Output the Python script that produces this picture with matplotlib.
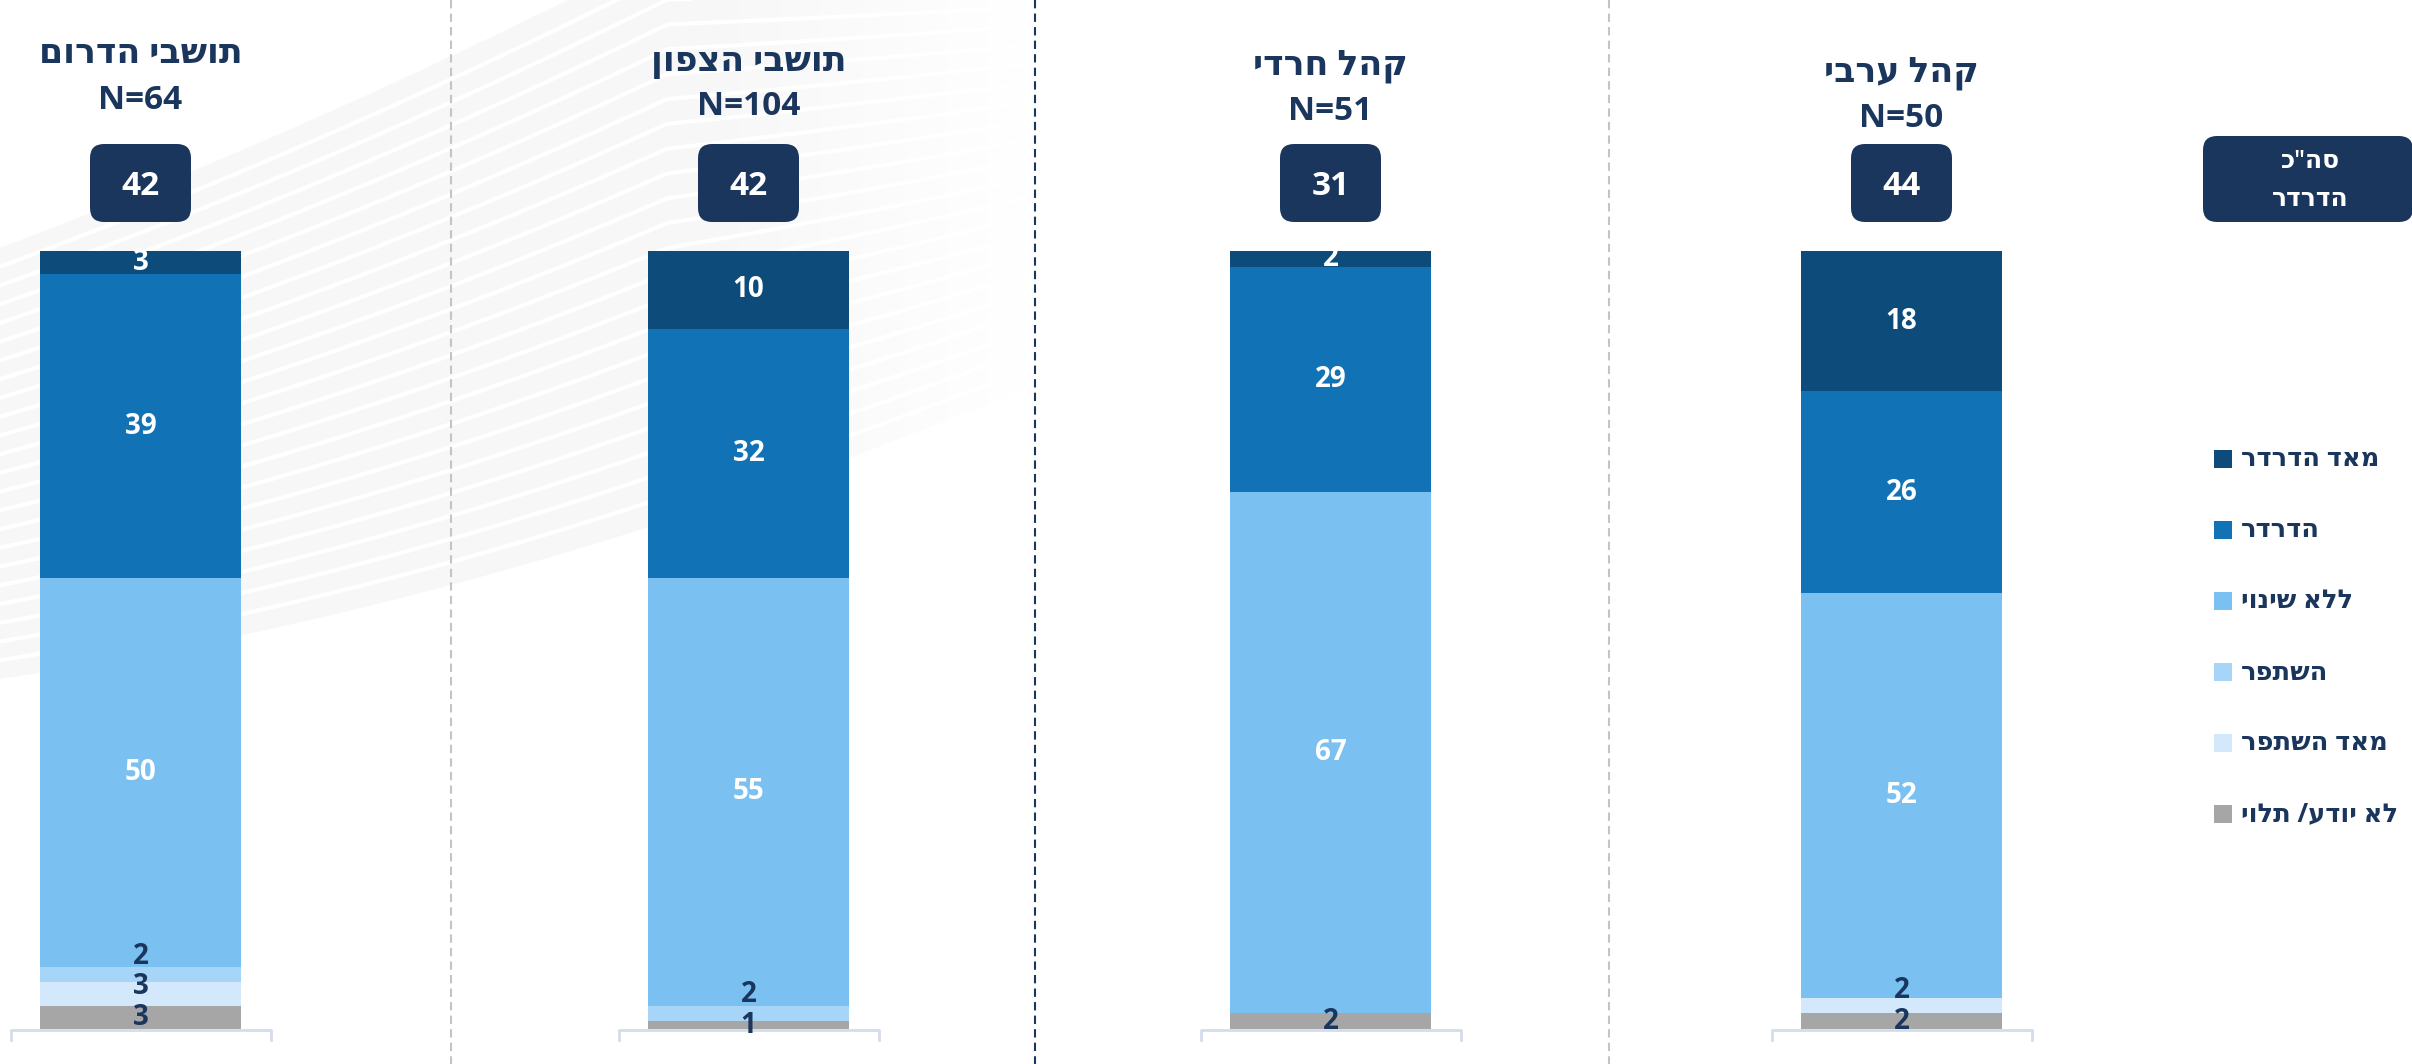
import numpy as np
import matplotlib.pyplot as plt
from matplotlib.patches import FancyBboxPatch, Rectangle, Polygon

plt.rcParams['font.family'] = ['Open Sans', 'DejaVu Sans']

# data (percent)
groups = ['תושבי הדרום', 'תושבי הצפון', 'קהל חרדי', 'קהל ערבי']
n_sizes = [64, 104, 51, 50]
totals = [42, 42, 31, 44]

# series bottom -> top
series = ['לא יודע/ תלוי', 'מאד השתפר', 'השתפר', 'ללא שינוי', 'הדרדר', 'מאד הדרדר']
dont_know = [3, 1, 2, 2]
much_better = [3, 0, 0, 2]
better = [2, 2, 0, 0]
no_change = [50, 55, 67, 52]
worse = [39, 32, 29, 26]
much_worse = [3, 10, 2, 18]
values = [dont_know, much_better, better, no_change, worse, much_worse]

colors = ['#a6a6a6', '#d3e9fb', '#a7d5f7', '#7ac1f2', '#1172b6', '#0c4b7a']
label_col = ['#1a365d', '#1a365d', '#1a365d', 'white', 'white', 'white']
NAVY = '#1a365d'

# layout (pixels of the 2412x1064 picture)
W, H = 2412, 1064
BASE, TOP = 1029, 251          # pixel rows of 0% and 100%
scale = (BASE - TOP) / 100.0
centers = [140.5, 748.5, 1330.5, 1901.5]
title_base = [63, 71, 75, 82]      # baseline of the group name
n_base = [109, 115, 120, 127]      # baseline of the N= line
bar_w = 201


def py(p):
    """pixel row (from top) -> y data value"""
    return (BASE - p) / scale


def rtl(s):
    return s[::-1]


fig = plt.figure(figsize=(W / 100, H / 100), dpi=100)
ax = fig.add_axes([0, 0, 1, 1])
ax.set_xlim(0, W)
ax.set_ylim(py(H), py(0))
ax.axis('off')

# faint background swoosh, fading out to the right
X_END = 1030
xs = np.linspace(0, X_END, 400)
top_c = np.clip(248 - 0.38 * xs - 0.0001 * xs ** 2, -50, None)
bot_c = 679 - 0.15 * xs - 0.00013 * xs ** 2
band = Polygon(np.column_stack([np.r_[xs, xs[::-1]], np.r_[py(top_c), py(bot_c[::-1])]]),
               closed=True, fc='none', ec='none')
ax.add_patch(band)
grad = np.ones((2, 400, 4))
grad[..., :3] = 0.972
grad[..., 3] = np.clip((X_END - xs) / 330, 0, 1)
img = ax.imshow(grad, extent=(0, X_END, py(H), py(0)), aspect='auto', zorder=0,
                interpolation='bilinear')
img.set_clip_path(band)
for k in np.linspace(0, 1, 24)[1:-1]:
    ax.plot(xs, py(top_c + k * (bot_c - top_c)), color='white', lw=3, zorder=0.5)
ax.set_xlim(0, W)
ax.set_ylim(py(H), py(0))

# separators
for x, c in [(451, '#c4c4c4'), (1035, NAVY), (1609, '#c4c4c4')]:
    ax.plot([x, x], [py(0), py(H)], color=c, lw=1.5, ls=(0, (4, 2.5)), zorder=1)

# stacked bars
bottoms = np.zeros(len(groups))
for vals, col in zip(values, colors):
    ax.bar(centers, vals, bottom=bottoms, width=bar_w, color=col, lw=0, zorder=2)
    bottoms = bottoms + np.array(vals)

# segment labels, small ones nudged apart
for gi, c in enumerate(centers):
    bottom = 0
    prev = -10
    for si, vals in enumerate(values):
        v = vals[gi]
        if v > 0:
            y = max(bottom + v / 2, prev + 3.9)
            ax.text(c, y, str(v), ha='center', va='center', fontsize=20,
                    fontweight='bold', color=label_col[si], zorder=4)
            prev = y
        bottom += v

# base brackets
for c in centers:
    ax.plot([c - 130, c - 130, c + 130, c + 130], [py(1040), py(1030), py(1030), py(1040)],
            color='#d3ddea', lw=2, zorder=3)

# titles and total boxes
for i, (c, g, n, t) in enumerate(zip(centers, groups, n_sizes, totals)):
    ax.text(c, py(title_base[i]), rtl(g), ha='center', va='baseline', fontsize=25,
            fontweight='bold', color=NAVY)
    ax.text(c, py(n_base[i]), 'N={}'.format(n), ha='center', va='baseline', fontsize=24,
            fontweight='bold', color=NAVY)
    box = FancyBboxPatch((c - 50.5, py(222)), 101, py(144) - py(222),
                         boxstyle='round,pad=0,rounding_size=14',
                         mutation_aspect=1 / scale, fc=NAVY, ec='none', zorder=3)
    ax.add_patch(box)
    ax.text(c, py(195), str(t), ha='center', va='baseline', fontsize=24,
            fontweight='bold', color='white', zorder=4)

# right header box
box = FancyBboxPatch((2203, py(222)), 210, py(136) - py(222),
                     boxstyle='round,pad=0,rounding_size=14',
                     mutation_aspect=1 / scale, fc=NAVY, ec='none', zorder=3)
ax.add_patch(box)
ax.text(2310, py(162), rtl('סה"כ'), ha='center', va='center', fontsize=18,
        fontweight='semibold', color='white', zorder=4)
ax.text(2310, py(200), rtl('הדרדר'), ha='center', va='center', fontsize=18,
        fontweight='semibold', color='white', zorder=4)

# legend (top row = top series)
for i, si in enumerate(range(len(series) - 1, -1, -1)):
    yc = 459 + 71 * i
    ax.add_patch(Rectangle((2214, py(yc + 9)), 18, py(yc - 9) - py(yc + 9),
                           fc=colors[si], ec='none'))
    ax.text(2241, py(yc), rtl(series[si]), ha='left', va='center', fontsize=18.5,
            fontweight='bold', color=NAVY)

fig.savefig('out.png', dpi=100)
